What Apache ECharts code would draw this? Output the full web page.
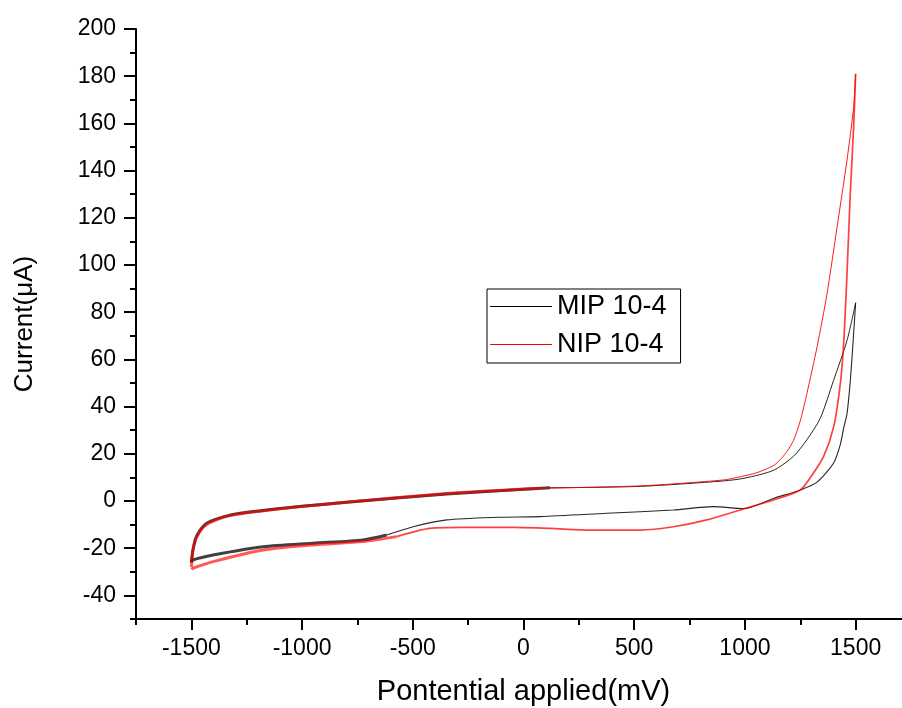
<!DOCTYPE html>
<html>
<head>
<meta charset="utf-8">
<title>Cyclic voltammograms MIP / NIP 10-4</title>
<script src="https://cdn.jsdelivr.net/npm/echarts@6/dist/echarts.min.js"></script>
<style>
  html, body { margin: 0; padding: 0; background: #fff; }
  #chart { width: 902px; height: 708px; }
</style>
</head>
<body>
<div id="chart"></div>
<script>
// Axis ticks (mV and µA)
const potentialTicks = [-1500, -1000, -500, 0, 500, 1000, 1500];
const potentialMinorTicks = [-1750, -1250, -750, -250, 250, 750, 1250, 1750];
const currentTicks = [-40, -20, 0, 20, 40, 60, 80, 100, 120, 140, 160, 180, 200];
const currentMinorTicks = [-50, -30, -10, 10, 30, 50, 70, 90, 110, 130, 150, 170, 190];

const seriesNames = ['MIP 10-4', 'NIP 10-4'];

// MIP 10-4: anodic sweep (-1500 -> 1500 mV)
const mipForwardPotential = [-1500, -1493, -1477, -1432, -1327, -1101, -799, -347, 120, 527, 903, 1000, 1129, 1220, 1280, 1340, 1400, 1461, 1500];
const mipForwardCurrent   = [-26, -20.8, -15, -9.5, -6, -3.2, -0.5, 3, 5.6, 6.2, 8.5, 9.7, 13, 19, 26, 35, 51, 68, 84];
// MIP 10-4: cathodic sweep (1500 -> -1500 mV)
const mipReversePotential = [1500, 1491, 1476, 1461, 1446, 1431, 1400, 1326, 1250, 1129, 994, 858, 677, 376, 75, -121, -347, -498, -618, -724, -950, -1176, -1402, -1493, -1500];
const mipReverseCurrent   = [84, 71, 51, 37, 31, 24, 16, 8, 4.7, 1.1, -3.2, -2.4, -3.8, -5.2, -6.6, -6.9, -8, -10.9, -14.4, -16.5, -17.9, -19.4, -22.9, -25, -26];

// NIP 10-4: anodic sweep
const nipForwardPotential = [-1500, -1493, -1477, -1432, -1327, -1101, -799, -347, 75, 527, 903, 980, 1054, 1129, 1159, 1190, 1220, 1250, 1280, 1326, 1371, 1416, 1461, 1491, 1500];
const nipForwardCurrent   = [-28, -21, -15.5, -10, -6.2, -3.3, -0.5, 3.2, 5.4, 6.4, 8.9, 10.3, 12, 15, 17.5, 21, 25.8, 34, 45.6, 65.4, 88, 116, 144.5, 167, 181];
// NIP 10-4: cathodic sweep
const nipReversePotential = [1500, 1491, 1476, 1461, 1446, 1431, 1401, 1355, 1298, 1250, 1129, 979, 828, 677, 527, 301, 120, -46, -272, -423, -573, -724, -950, -1176, -1402, -1493, -1500];
const nipReverseCurrent   = [181, 158.6, 130.6, 96.5, 66.8, 49.9, 31.5, 18.8, 10.3, 4.7, 0.4, -3.8, -8, -10.9, -12.3, -12.3, -11.6, -11.2, -11.2, -11.6, -15.1, -17.2, -18.6, -20.8, -25.7, -28.5, -29];

const FONT = "'Liberation Sans', Arial, sans-serif";
// Potential window; the frame runs past the right edge of the page
const X_MIN = -1750;
const X_MAX = 1750;

function pairs(xs, ys) {
  return xs.map((x, i) => [x, ys[i]]);
}

// Split a sweep into the part below a potential and the rest, sharing the boundary point.
function splitAt(xs, ys, limit, increasing) {
  const pts = pairs(xs, ys);
  const low = [], high = [];
  pts.forEach(p => { (p[0] <= limit ? low : high).push(p); });
  if (increasing) {
    if (low.length) high.unshift(low[low.length - 1]);
  } else {
    if (high.length) low.unshift(high[high.length - 1]);
  }
  return [low, high];
}

function seg(name, color, data, width, opacity) {
  return {
    name: name,
    type: 'line',
    data: data,
    symbol: 'none',
    smooth: 0.25,
    silent: true,
    lineStyle: { color: color, width: width, opacity: opacity },
    itemStyle: { color: color },
    z: color === '#ff0000' ? 3 : 2
  };
}

const mipF = splitAt(mipForwardPotential, mipForwardCurrent, 300, true);
const mipR = splitAt(mipReversePotential, mipReverseCurrent, -650, false);
const nipF = splitAt(nipForwardPotential, nipForwardCurrent, 300, true);
const nipR = splitAt(nipReversePotential, nipReverseCurrent, -650, false);

const series = [
  seg(seriesNames[0], '#000000', mipF[1], 1, 0.85),
  seg(seriesNames[0], '#000000', mipR[1], 1.1, 0.85),
  seg(seriesNames[0], '#000000', mipF[0], 3, 0.75),
  seg(seriesNames[0], '#000000', mipR[0], 3, 0.75),
  seg(seriesNames[1], '#ff0000', nipF[1], 1, 0.9),
  seg(seriesNames[1], '#ff0000', nipR[1], 1.7, 0.75),
  seg(seriesNames[1], '#ff0000', nipF[0], 3, 0.65),
  seg(seriesNames[1], '#ff0000', nipR[0], 3, 0.65)
];

const mainAxisLine = { show: true, onZero: false, lineStyle: { color: '#000', width: 2 } };

const option = {
  animation: false,
  backgroundColor: '#ffffff',
  textStyle: { fontFamily: FONT },
  grid: { left: 136, top: 29, width: 775, height: 590, outerBoundsMode: 'none', containLabel: false },
  legend: {
    data: seriesNames,
    orient: 'vertical',
    left: 487,
    top: 289,
    padding: [4, 14, 5, 3],
    icon: 'rect',
    itemWidth: 62,
    itemHeight: 1,
    itemGap: 11,
    itemTextGap: 13,
    borderColor: '#000',
    borderWidth: 1,
    selectedMode: false,
    textStyle: { fontFamily: FONT, fontSize: 27, lineHeight: 25, color: '#000' }
  },
  xAxis: [
    {
      type: 'value', min: X_MIN, max: X_MAX,
      name: 'Pontential applied(mV)', nameLocation: 'middle', nameGap: 58,
      nameTextStyle: { fontFamily: FONT, fontSize: 29, color: '#000' },
      axisLine: mainAxisLine,
      axisTick: { show: true, customValues: potentialTicks, length: 11, lineStyle: { color: '#000', width: 2 } },
      axisLabel: { customValues: potentialTicks, margin: 18, fontFamily: FONT, fontSize: 23, color: '#000', formatter: v => String(v) },
      splitLine: { show: false }
    },
    {
      type: 'value', min: X_MIN, max: X_MAX, position: 'bottom',
      axisLine: { show: false, onZero: false },
      axisTick: { show: true, customValues: potentialMinorTicks, length: 6, lineStyle: { color: '#000', width: 2 } },
      axisLabel: { show: false },
      splitLine: { show: false }
    }
  ],
  yAxis: [
    {
      type: 'value', min: -50, max: 200,
      name: 'Current(\u03bcA)', nameLocation: 'middle', nameGap: 98,
      nameTextStyle: { fontFamily: FONT, fontSize: 26, color: '#000' },
      axisLine: mainAxisLine,
      axisTick: { show: true, customValues: currentTicks, length: 12, lineStyle: { color: '#000', width: 2 } },
      axisLabel: { customValues: currentTicks, margin: 20, fontFamily: FONT, fontSize: 23, color: '#000', formatter: v => String(v) },
      splitLine: { show: false }
    },
    {
      type: 'value', min: -50, max: 200, position: 'left',
      axisLine: { show: false, onZero: false },
      axisTick: { show: true, customValues: currentMinorTicks, length: 6, lineStyle: { color: '#000', width: 2 } },
      axisLabel: { show: false },
      splitLine: { show: false }
    }
  ],
  series: series
};

const chart = echarts.init(document.getElementById('chart'), null, { renderer: 'canvas' });
chart.setOption(option);
</script>
</body>
</html>
